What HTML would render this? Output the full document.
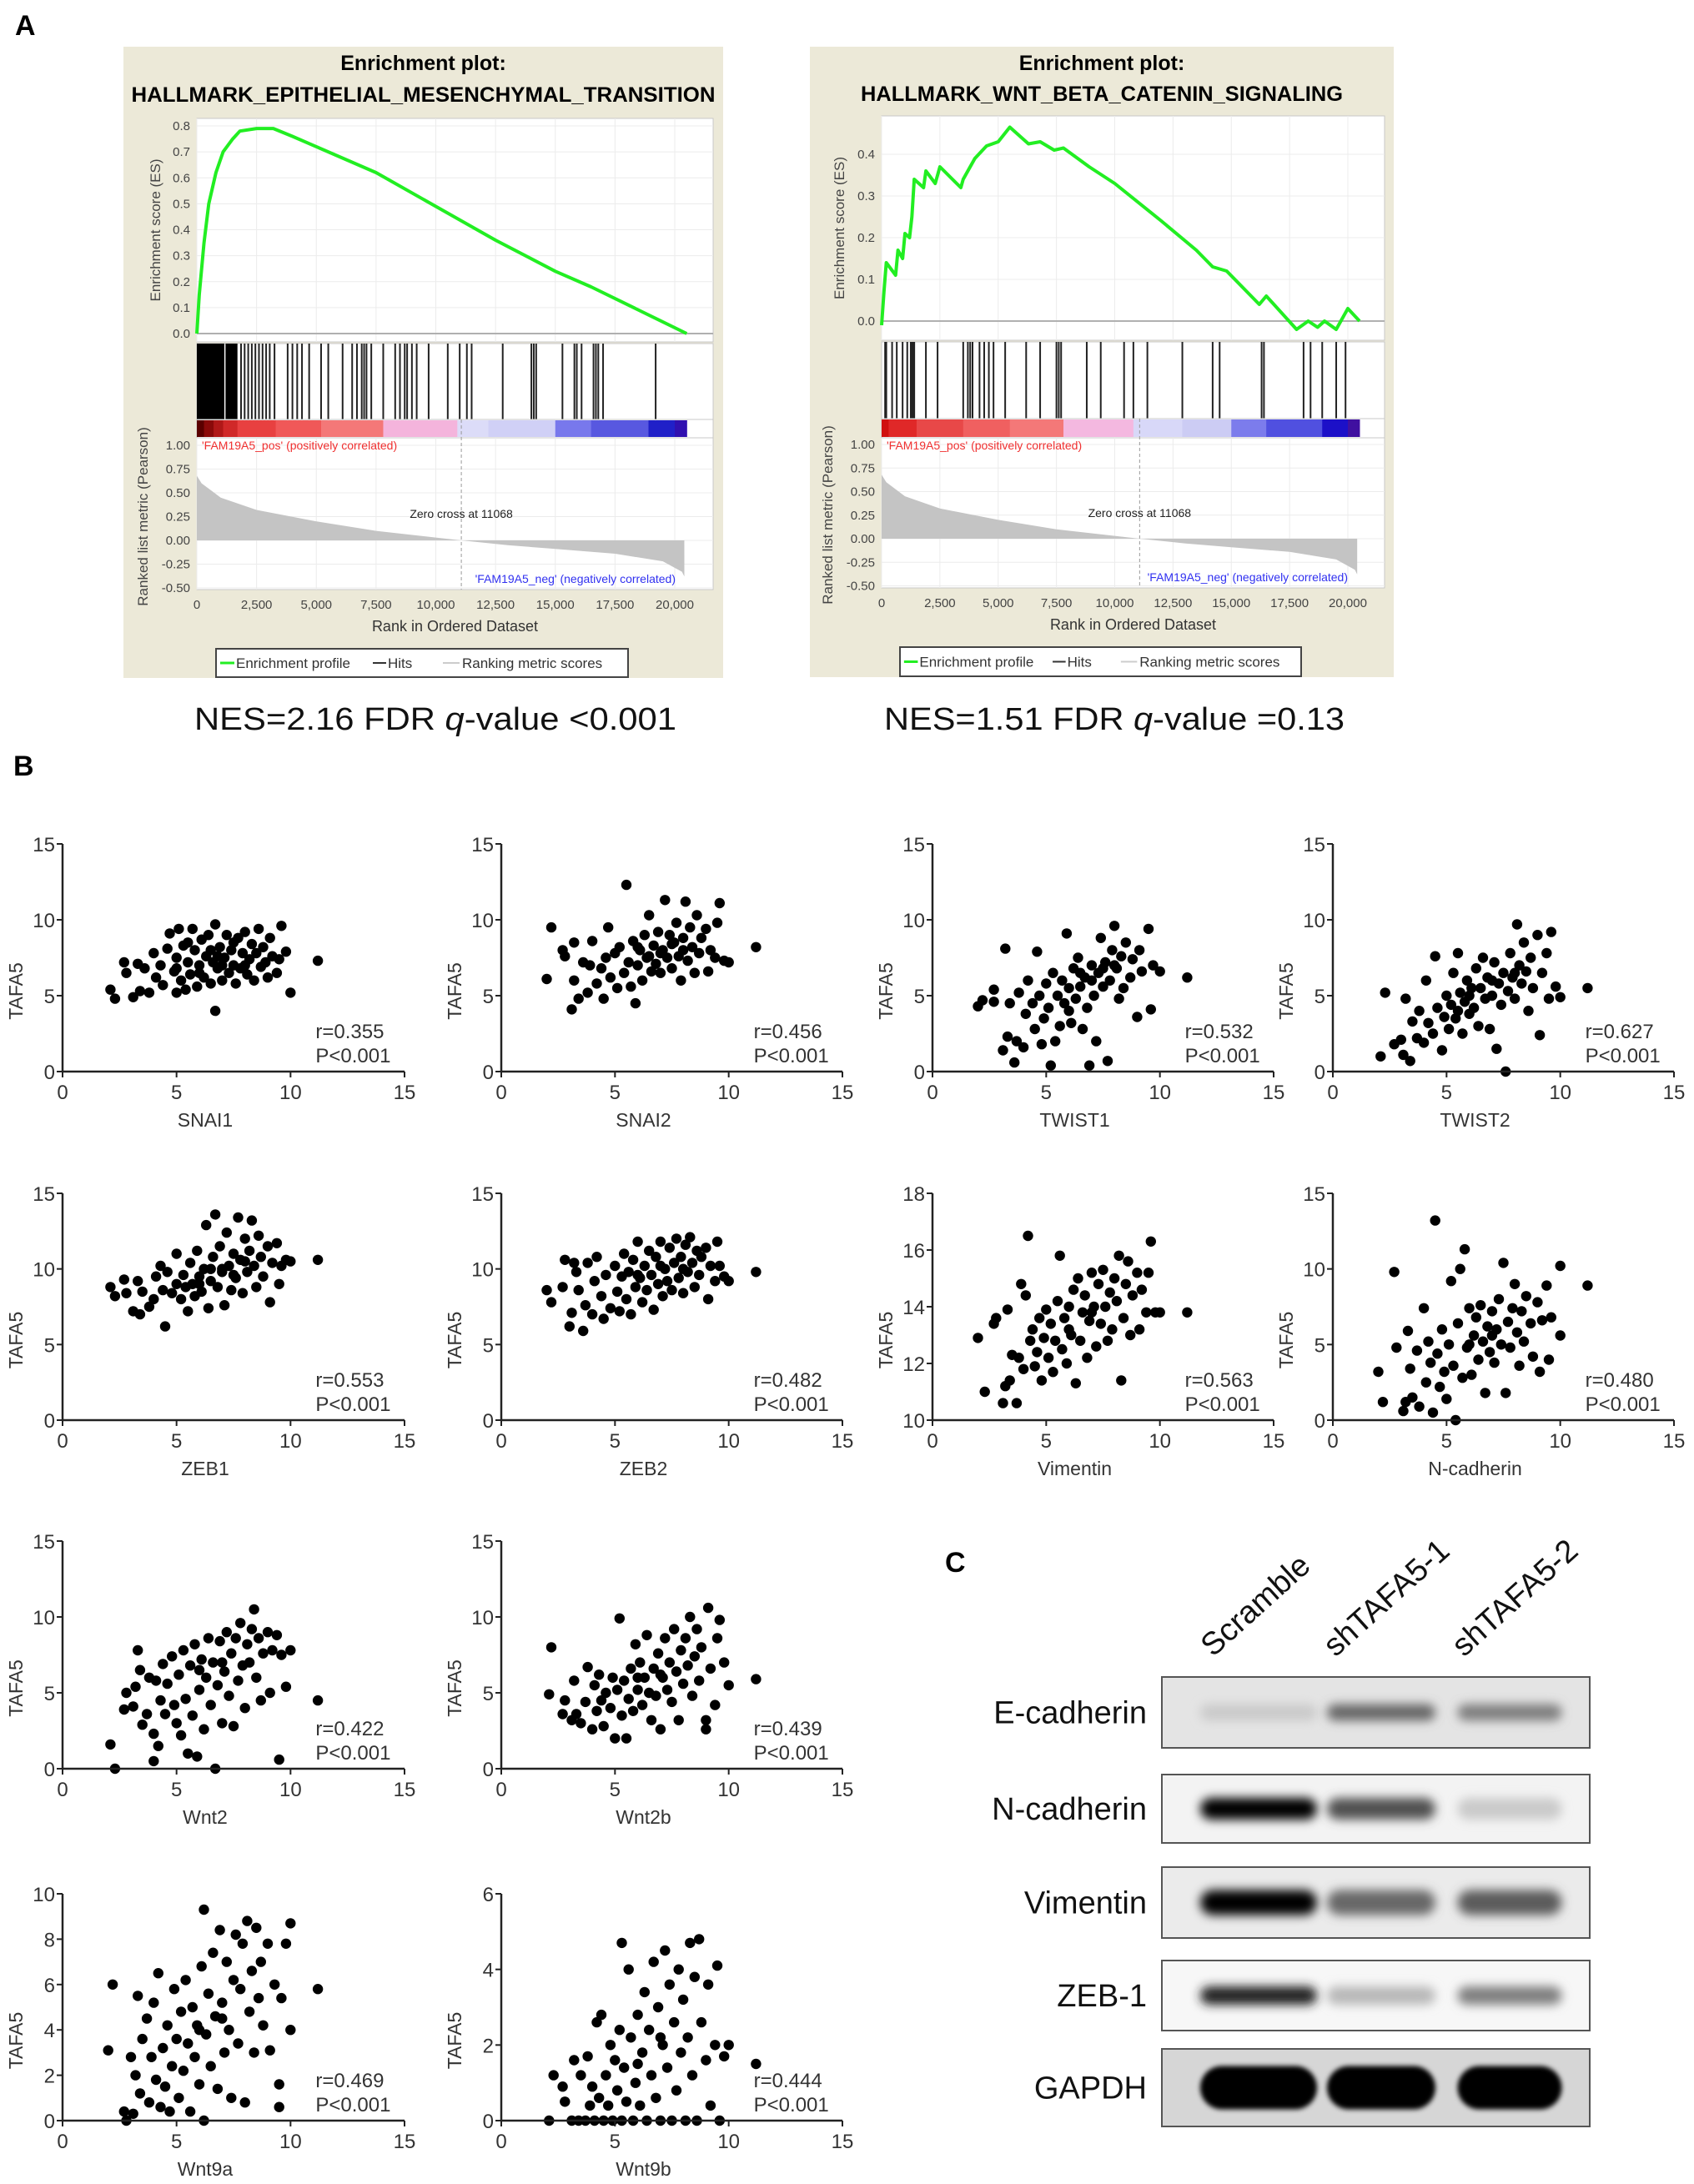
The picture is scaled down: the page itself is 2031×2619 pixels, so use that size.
<!DOCTYPE html>
<html><head><meta charset="utf-8"><style>
html,body{margin:0;padding:0;background:#fff;}
svg{display:block;font-family:"Liberation Sans",Arial,sans-serif;}
</style></head><body>
<svg id="fig" width="2031" height="2619" viewBox="0 0 2031 2619" xmlns="http://www.w3.org/2000/svg">
<defs>
<filter id="blur" x="-30%" y="-100%" width="160%" height="300%"><feGaussianBlur stdDeviation="6"/></filter>
<filter id="blur2" x="-30%" y="-100%" width="160%" height="300%"><feGaussianBlur stdDeviation="3"/></filter>
</defs>
<text x="18" y="42" font-size="34" font-weight="bold">A</text>
<text x="16" y="930" font-size="34" font-weight="bold">B</text>
<text x="1133" y="1885" font-size="34" font-weight="bold">C</text>
</svg>
<script>
// ===== GSEA data =====
const emtEsRank=[0,100,300,500,800,1100,1500,1800,2500,3200,4000,5000,7500,10000,12500,15000,16500,18500,20500];
const emtEsVal=[0,0.15,0.35,0.5,0.62,0.7,0.75,0.78,0.79,0.79,0.76,0.72,0.62,0.49,0.36,0.24,0.18,0.09,0];
const emtHitBlocks=[[0,1150],[1200,1700]];
const emtHits=[1850,2000,2150,2300,2450,2600,2750,2900,3050,3250,3800,4000,4200,4400,4700,5200,5500,6100,6500,6700,6900,7000,7100,7300,7800,8300,8500,8700,8800,9000,9200,9700,10500,11000,11300,11500,12800,14000,14100,14200,15300,15800,15900,16100,16600,16700,16800,17000,19200];
const emtBarRank=[0,300,700,1100,1700,3300,5200,7800,10900,12200,15000,16500,18900,20000];
const emtBarColor=['#5a0000','#8a0a0a','#b01818','#d02828','#e84040','#f05858','#f47878','#f4b4dc','#dcdcf8','#d0d0f6','#7878ec','#5858e0','#2020c8','#3010b0'];
const wntEsRank=[0,100,200,600,700,900,1000,1200,1300,1400,1800,1900,2300,2500,3400,3500,4000,4500,5000,5500,6300,6800,7400,7800,8900,10000,12000,13500,14200,14800,16200,16500,17800,18300,18700,19000,19500,19700,20000,20500];
const wntEsVal=[-0.01,0.07,0.14,0.11,0.17,0.15,0.21,0.2,0.25,0.34,0.32,0.36,0.33,0.37,0.32,0.34,0.39,0.42,0.43,0.465,0.425,0.43,0.41,0.415,0.37,0.33,0.24,0.17,0.13,0.12,0.04,0.06,-0.02,0.0,-0.015,0.0,-0.02,0.0,0.03,0.0];
const wntHitBlocks=[];
const wntHits=[150,200,450,650,900,1100,1250,1300,1350,1400,1900,2400,3500,3700,3800,3900,4200,4400,4600,4800,5300,6200,6800,7500,7600,7700,8800,9400,10400,10800,11400,12900,14200,14500,16300,16400,18100,18400,18900,19500,19900];
const wntBarRank=[0,300,1500,3500,5500,7800,10800,12900,15000,16500,18900,20000];
const wntBarColor=['#d01010','#e02828','#e84848','#f06060','#f47878','#f4b8e0','#d8d8f8','#ccccf4','#7c7cec','#5050e0','#1c10c8','#4010a0'];
const metricRank=[0,200,1000,2500,5000,7500,10000,11068,13000,15000,17500,19500,20300,20400];
const metricVal=[0.68,0.6,0.45,0.32,0.2,0.1,0.03,0,-0.05,-0.09,-0.14,-0.22,-0.33,-0.38];
const rankTicks=[0,2500,5000,7500,10000,12500,15000,17500,20000];
const rankTickLabels=['0','2,500','5,000','7,500','10,000','12,500','15,000','17,500','20,000'];
const metricTicks=[1,0.75,0.5,0.25,0,-0.25,-0.5];
const metricTickLabels=['1.00','0.75','0.50','0.25','0.00','-0.25','-0.50'];
const emtEsTicks=[0,0.1,0.2,0.3,0.4,0.5,0.6,0.7,0.8];
const wntEsTicks=[0,0.1,0.2,0.3,0.4];

const NS='http://www.w3.org/2000/svg';
const svg=document.getElementById('fig');
function mk(tag,attrs,parent,text){const e=document.createElementNS(NS,tag);for(const k in attrs)e.setAttribute(k,attrs[k]);if(text!==undefined)e.textContent=text;(parent||svg).appendChild(e);return e;}

function gsea(cfg){
  const g=mk('g',{});
  
  
  const xr=r=>cfg.x0+(r/20000)*(cfg.x20k-cfg.x0);
  const ye=v=>cfg.es0+(v/cfg.esRef)*(cfg.esRefY-cfg.es0);
  const ymm=v=>cfg.m0-(v)*(cfg.m0-cfg.m1);
  const bg=mk('rect',{x:cfg.box[0],y:cfg.box[1],width:cfg.box[2]-cfg.box[0],height:cfg.box[3]-cfg.box[1],fill:'#ece9d8'},g);
  
  const cx=(cfg.box[0]+cfg.box[2])/2;
  let t=mk('text',{x:cx,y:cfg.t1y,'font-size':25,'font-weight':'bold','text-anchor':'middle'},g,'Enrichment plot:');
  
  t=mk('text',{x:cx,y:cfg.t2y,'font-size':25,'font-weight':'bold','text-anchor':'middle',textLength:cfg.t2len,lengthAdjust:'spacingAndGlyphs'},g,cfg.title);
  
  const L=cfg.x0,R=cfg.xR;
  let p=mk('rect',{x:L,y:cfg.esTop,width:R-L,height:cfg.esBot-cfg.esTop,fill:'#fff',stroke:'#c8c8c8'},g);
  
  rankTicks.forEach(r=>{mk('line',{x1:xr(r),x2:xr(r),y1:cfg.esTop,y2:cfg.esBot,stroke:'#ececec'},g);});
  cfg.esTicks.forEach(v=>{mk('line',{x1:L,x2:R,y1:ye(v),y2:ye(v),stroke:v===0?'#b0b0b0':'#ececec','stroke-width':v===0?2:1},g);
    const tl=mk('text',{x:L-8,y:ye(v)+5,'font-size':15,fill:'#444','text-anchor':'end'},g,v.toFixed(1));
    });
  let yl=mk('text',{transform:`translate(${cfg.esLabX},${(cfg.esTop+cfg.esBot)/2}) rotate(-90)`,'font-size':17,fill:'#444','text-anchor':'middle'},g,'Enrichment score (ES)');
  
  const pts=cfg.esRank.map((r,i)=>xr(r).toFixed(1)+','+ye(cfg.esVal[i]).toFixed(1)).join(' ');
  const pl=mk('polyline',{points:pts,fill:'none',stroke:'#22ee22','stroke-width':4,'stroke-linejoin':'round'},g);
  
  p=mk('rect',{x:L,y:cfg.hTop,width:R-L,height:cfg.hBot-cfg.hTop,fill:'#fff',stroke:'#c8c8c8'},g);
  
  cfg.hitBlocks.forEach(b=>{const h=mk('rect',{x:xr(b[0]),y:cfg.hTop,width:xr(b[1])-xr(b[0]),height:cfg.hBot-cfg.hTop,fill:'#000'},g);
    });
  cfg.hits.forEach(r=>{const h=mk('line',{x1:xr(r),x2:xr(r),y1:cfg.hTop,y2:cfg.hBot,stroke:'#222','stroke-width':2},g);
    });
  mk('rect',{x:L,y:cfg.hBot,width:R-L,height:cfg.mTop-cfg.hBot,fill:'#fff',stroke:'#c8c8c8'},g);
  cfg.barRank.forEach((r,i)=>{const e=i+1<cfg.barRank.length?cfg.barRank[i+1]:20500;
    const c=mk('rect',{x:xr(r),y:cfg.hBot+1,width:xr(e)-xr(r)+0.5,height:cfg.mTop-cfg.hBot-2,fill:cfg.barColor[i]},g);
    });
  p=mk('rect',{x:L,y:cfg.mTop,width:R-L,height:cfg.mBot-cfg.mTop,fill:'#fff',stroke:'#c8c8c8'},g);
  
  rankTicks.forEach(r=>mk('line',{x1:xr(r),x2:xr(r),y1:cfg.mTop,y2:cfg.mBot,stroke:'#ececec'},g));
  metricTicks.forEach((v,i)=>{mk('line',{x1:L,x2:R,y1:ymm(v),y2:ymm(v),stroke:'#ececec'},g);
    const tl=mk('text',{x:L-8,y:ymm(v)+5,'font-size':15,fill:'#444','text-anchor':'end'},g,metricTickLabels[i]);
    });
  let ap='M'+xr(0)+','+ymm(0)+' '+metricRank.map((r,i)=>'L'+xr(r).toFixed(1)+','+ymm(metricVal[i]).toFixed(1)).join(' ')+' L'+xr(metricRank[metricRank.length-1])+','+ymm(0)+'Z';
  const area=mk('path',{d:ap,fill:'#c4c4c4'},g);
  
  mk('line',{x1:xr(11068),x2:xr(11068),y1:cfg.hBot,y2:cfg.mBot,stroke:'#999','stroke-dasharray':'4,3'},g);
  t=mk('text',{x:xr(11068),y:cfg.zcY,'font-size':14,'text-anchor':'middle',fill:'#222'},g,'Zero cross at 11068');
  
  t=mk('text',{x:L+6,y:cfg.mTop+14,'font-size':14,fill:'#f03030'},g,"'FAM19A5_pos' (positively correlated)");
  
  t=mk('text',{x:cfg.negX,y:cfg.mBot-8,'font-size':14,fill:'#3030f0','text-anchor':'end'},g,"'FAM19A5_neg' (negatively correlated)");
  
  yl=mk('text',{transform:`translate(${cfg.mLabX},${(cfg.hTop+cfg.mBot+120)/2}) rotate(-90)`,'font-size':17,fill:'#444','text-anchor':'middle'},g,'Ranked list metric (Pearson)');
  
  rankTicks.forEach((r,i)=>{const tl=mk('text',{x:xr(r),y:cfg.mBot+23,'font-size':15,fill:'#444','text-anchor':'middle'},g,rankTickLabels[i]);
    });
  t=mk('text',{x:(L+R)/2,y:cfg.mBot+50,'font-size':18,fill:'#333','text-anchor':'middle'},g,'Rank in Ordered Dataset');
  
  const lg=mk('g',{},g);
  const [lx1,ly1,lx2,ly2]=cfg.leg;
  mk('rect',{x:lx1,y:ly1,width:lx2-lx1,height:ly2-ly1,fill:'#fff',stroke:'#444','stroke-width':2},lg);
  const sc=(lx2-lx1)/494; const my=(ly1+ly2)/2;
  mk('line',{x1:lx1+5*sc,x2:lx1+22*sc,y1:my,y2:my,stroke:'#22ee22','stroke-width':3},lg);
  t=mk('text',{x:lx1+24*sc,y:my+6,'font-size':17,fill:'#333'},lg,'Enrichment profile');
  mk('line',{x1:lx1+188*sc,x2:lx1+204*sc,y1:my,y2:my,stroke:'#333','stroke-width':2},lg);
  t=mk('text',{x:lx1+206*sc,y:my+6,'font-size':17,fill:'#333'},lg,'Hits');
  mk('line',{x1:lx1+272*sc,x2:lx1+292*sc,y1:my,y2:my,stroke:'#ccc','stroke-width':2},lg);
  t=mk('text',{x:lx1+295*sc,y:my+6,'font-size':17,fill:'#333'},lg,'Ranking metric scores');
  const nes=mk('text',{x:cfg.nesX,y:875,'font-size':38,fill:'#111',textLength:cfg.nesLen,lengthAdjust:'spacingAndGlyphs'});
  
  mk('tspan',{},nes,cfg.nes1);mk('tspan',{'font-style':'italic'},nes,'q');mk('tspan',{},nes,cfg.nes2);
}
gsea({name:'gsea-emt',box:[148,56,867,813],title:'HALLMARK_EPITHELIAL_MESENCHYMAL_TRANSITION',t1y:84,t2y:122,t2len:700,
  x0:236,x20k:809,xR:855,esTop:142,esBot:410,es0:400,esRef:0.8,esRefY:151,esTicks:emtEsTicks,esLabX:192,
  hTop:412,hBot:503,mTop:525,mBot:707,m0:648,m1:534,zcY:621,negX:810,mLabX:177,leg:[259,778,753,812],
  esRank:emtEsRank,esVal:emtEsVal,hits:emtHits,hitBlocks:emtHitBlocks,barRank:emtBarRank,barColor:emtBarColor,
  nesX:233,nesLen:578,nes1:'NES=2.16   FDR ',nes2:'-value <0.001'});
gsea({name:'gsea-wnt',box:[971,56,1671,812],title:'HALLMARK_WNT_BETA_CATENIN_SIGNALING',t1y:84,t2y:121,t2len:578,
  x0:1057,x20k:1616,xR:1660,esTop:139,esBot:408,es0:385,esRef:0.4,esRefY:185,esTicks:wntEsTicks,esLabX:1012,
  hTop:410,hBot:502,mTop:525,mBot:705,m0:646,m1:533,zcY:620,negX:1616,mLabX:998,leg:[1079,776,1560,811],
  esRank:wntEsRank,esVal:wntEsVal,hits:wntHits,hitBlocks:wntHitBlocks,barRank:wntBarRank,barColor:wntBarColor,
  nesX:1060,nesLen:552,nes1:'NES=1.51   FDR ',nes2:'-value =0.13'});

// ===== Scatter data (panel B) =====
const snai1X=[2.1,2.3,2.7,2.8,3.1,3.3,3.4,3.6,3.8,4.0,4.1,4.3,4.4,4.6,4.7,4.9,5.0,5.0,5.1,5.2,5.3,5.4,5.5,5.6,5.7,5.8,5.9,6.0,6.1,6.2,6.3,6.4,6.5,6.6,6.7,6.7,6.8,6.9,7.0,7.1,7.2,7.3,7.4,7.5,7.6,7.7,7.8,7.9,8.0,8.1,8.2,8.3,8.4,8.5,8.6,8.7,8.8,8.9,9.0,9.1,9.2,9.4,9.5,9.6,9.8,10.0,11.2,5.5,6.5,7.5,6.0,7.0,8.0,5.0,6.8];
const snai1Y=[5.4,4.8,7.2,6.5,4.9,7.1,5.3,6.8,5.2,7.8,6.2,7.0,5.7,8.1,9.1,6.6,5.2,7.5,9.4,6.0,8.3,5.4,7.2,6.4,9.4,8.0,5.6,7.0,8.7,6.2,7.6,9.0,5.8,7.2,4.0,9.7,6.8,8.2,6.0,7.5,9.0,6.5,8.0,7.0,5.8,8.8,6.8,7.8,9.2,6.4,7.4,8.4,6.0,7.8,9.4,6.9,8.2,7.2,6.2,8.8,7.6,6.5,7.4,9.6,7.9,5.2,7.3,8.5,8.0,8.5,6.5,7.0,7.0,6.8,7.6];
const snai2X=[2.0,2.2,2.7,2.8,3.1,3.2,3.2,3.4,3.6,3.8,3.9,4.0,4.2,4.4,4.5,4.6,4.7,4.8,5.0,5.1,5.2,5.4,5.5,5.6,5.7,5.8,5.9,6.0,6.1,6.2,6.3,6.4,6.5,6.6,6.7,6.8,6.9,7.0,7.1,7.2,7.3,7.4,7.5,7.6,7.7,7.8,7.9,8.0,8.1,8.2,8.3,8.4,8.5,8.6,8.7,8.8,9.0,9.1,9.2,9.4,9.5,9.6,9.8,10.0,11.2,6.0,7.0,8.0,6.5,7.5];
const snai2Y=[6.1,9.5,8.0,7.6,4.1,8.5,6.0,4.8,7.2,5.2,7.0,8.6,5.8,6.8,4.8,7.5,9.5,6.2,7.8,5.5,8.2,6.5,12.3,7.2,5.6,8.6,4.5,7.0,8.0,6.0,9.0,7.5,10.3,6.6,8.3,7.1,9.2,6.5,8.0,11.3,7.5,9.0,6.8,8.5,9.8,7.6,6.0,8.8,11.2,7.3,9.5,8.2,6.5,10.3,7.8,8.8,9.4,6.6,8.0,7.5,9.8,11.1,7.3,7.2,8.2,8.2,7.8,8.0,7.6,8.4];
const twist1X=[2.0,2.2,2.7,2.7,3.1,3.2,3.3,3.4,3.6,3.7,3.8,4.0,4.1,4.2,4.4,4.5,4.6,4.7,4.8,4.9,5.0,5.1,5.2,5.3,5.4,5.5,5.6,5.7,5.8,5.9,6.0,6.1,6.2,6.3,6.4,6.5,6.6,6.7,6.8,6.9,7.0,7.1,7.2,7.3,7.4,7.5,7.6,7.7,7.8,7.9,8.0,8.1,8.2,8.3,8.4,8.5,8.7,8.8,9.0,9.1,9.2,9.5,9.6,9.7,10.0,11.2,6.0,7.0,8.0,6.5,7.5];
const twist1Y=[4.3,4.7,4.6,5.4,1.4,8.1,2.3,4.5,0.6,2.0,5.2,1.6,3.8,6.0,4.5,2.8,7.9,5.0,1.8,3.5,5.8,4.2,0.4,6.5,2.0,5.0,3.0,6.0,4.5,9.1,5.5,3.2,6.8,4.8,7.5,5.6,2.8,6.2,4.2,0.4,7.0,5.0,2.0,6.5,8.8,5.6,7.2,0.7,6.0,8.0,9.6,6.8,4.8,7.6,5.5,8.5,6.2,7.4,3.6,8.0,6.6,9.4,4.1,7.0,6.6,6.2,4.0,6.0,7.0,6.5,6.8];
const twist2X=[2.1,2.3,2.7,3.0,3.1,3.2,3.4,3.5,3.7,3.8,4.0,4.1,4.2,4.4,4.5,4.6,4.8,4.9,5.0,5.1,5.2,5.3,5.4,5.5,5.6,5.7,5.8,5.9,6.0,6.1,6.2,6.3,6.4,6.5,6.6,6.7,6.8,6.9,7.0,7.1,7.2,7.3,7.4,7.5,7.6,7.7,7.8,7.9,8.0,8.1,8.2,8.3,8.4,8.5,8.6,8.7,8.8,9.0,9.1,9.2,9.4,9.5,9.6,9.8,10.0,11.2,6.0,7.0,8.0,5.5];
const twist2Y=[1.0,5.2,1.8,2.1,1.1,4.8,0.7,3.3,2.2,4.0,1.9,6.0,3.2,2.5,7.6,4.2,1.4,3.6,5.0,2.8,4.4,6.5,3.5,7.8,5.2,2.5,4.6,6.0,3.8,5.5,4.2,6.8,3.0,5.5,7.5,4.8,6.2,2.8,5.0,7.2,1.5,5.8,4.4,6.5,0.0,5.3,7.8,6.2,4.8,9.7,7.0,5.8,8.5,6.6,4.0,7.5,5.5,9.0,2.4,6.5,7.8,4.8,9.2,5.6,4.9,5.5,5.0,6.0,6.5,4.0];
const zeb1X=[2.1,2.3,2.7,2.8,3.1,3.3,3.4,3.5,3.8,4.0,4.1,4.3,4.4,4.5,4.6,4.8,5.0,5.0,5.2,5.3,5.4,5.5,5.6,5.7,5.8,5.9,6.0,6.1,6.2,6.3,6.4,6.5,6.6,6.7,6.8,6.9,7.0,7.1,7.2,7.3,7.4,7.5,7.6,7.7,7.8,7.9,8.0,8.1,8.2,8.3,8.4,8.5,8.6,8.7,8.8,9.0,9.1,9.2,9.4,9.5,9.6,9.8,10.0,11.2,6.0,7.0,8.0,6.5,7.5];
const zeb1Y=[8.8,8.2,9.3,8.4,7.2,9.2,7.0,8.5,7.5,8.0,9.5,10.2,8.6,6.2,9.8,8.4,11.0,9.0,8.0,9.6,8.8,7.2,10.4,9.0,8.2,11.2,9.5,8.5,10.0,12.9,7.4,9.2,10.8,13.6,8.8,11.5,9.8,7.6,12.4,10.2,8.6,11.0,9.4,13.4,10.6,8.4,12.0,9.8,11.2,13.2,10.2,8.8,12.2,10.8,9.5,11.5,7.8,10.4,11.7,9.0,10.2,10.6,10.5,10.6,9.0,10.0,10.5,10.0,9.6];
const zeb2X=[2.0,2.2,2.7,2.8,3.0,3.1,3.2,3.3,3.4,3.6,3.7,3.8,4.0,4.1,4.2,4.4,4.5,4.6,4.8,5.0,5.1,5.2,5.3,5.4,5.5,5.6,5.7,5.8,5.9,6.0,6.1,6.2,6.3,6.4,6.5,6.6,6.7,6.8,6.9,7.0,7.1,7.2,7.3,7.4,7.5,7.6,7.7,7.8,7.9,8.0,8.1,8.2,8.3,8.4,8.5,8.6,8.7,8.8,9.0,9.1,9.2,9.4,9.5,9.6,9.8,10.0,11.2,6.0,7.0,8.0];
const zeb2Y=[8.6,7.8,8.8,10.6,6.2,7.1,10.4,9.8,8.6,5.9,7.6,10.4,7.0,9.2,10.8,8.2,6.7,9.6,7.4,10.2,8.5,7.2,9.5,11.0,8.0,9.8,7.0,10.6,8.8,11.8,9.4,7.8,10.2,8.6,11.2,9.6,7.3,10.8,9.0,11.8,8.2,10.0,9.2,11.4,8.6,10.4,12.0,9.4,10.8,8.4,11.6,9.8,12.1,10.4,8.8,11.2,9.6,10.8,11.4,8.0,10.2,9.2,11.8,10.2,9.5,9.2,9.8,9.6,10.2,10.0];
const vimX=[2.0,2.3,2.7,2.8,3.1,3.2,3.3,3.4,3.5,3.7,3.8,3.9,4.0,4.1,4.2,4.3,4.4,4.5,4.6,4.7,4.8,4.9,5.0,5.1,5.2,5.3,5.4,5.5,5.6,5.7,5.8,5.9,6.0,6.1,6.2,6.3,6.4,6.5,6.6,6.7,6.8,6.9,7.0,7.1,7.2,7.3,7.4,7.5,7.6,7.7,7.8,7.9,8.0,8.1,8.2,8.3,8.4,8.5,8.6,8.7,8.8,9.0,9.1,9.2,9.4,9.5,9.6,9.8,10.0,11.2,6.0,7.0];
const vimY=[12.9,11.0,13.4,13.6,10.6,11.2,13.9,11.4,12.3,10.6,12.2,14.8,11.8,14.4,16.5,12.8,13.2,11.9,12.4,13.6,11.4,12.9,13.9,12.2,13.4,11.7,12.8,14.2,15.8,12.5,13.6,12.0,14.0,13.0,14.6,11.3,15.0,12.8,13.8,14.4,12.2,13.5,15.2,14.0,12.6,14.8,13.4,15.3,14.0,12.8,14.5,13.2,15.0,14.2,15.8,11.4,13.6,14.8,15.6,13.0,14.4,15.2,13.2,14.6,13.8,15.2,16.3,13.8,13.8,13.8,13.2,13.8];
const ncadX=[2.0,2.2,2.7,2.8,3.1,3.2,3.3,3.4,3.5,3.7,3.8,4.0,4.1,4.2,4.3,4.4,4.5,4.6,4.7,4.8,4.9,5.0,5.1,5.2,5.3,5.4,5.5,5.6,5.7,5.8,5.9,6.0,6.1,6.2,6.3,6.4,6.5,6.6,6.7,6.8,6.9,7.0,7.1,7.2,7.3,7.4,7.5,7.6,7.7,7.8,7.9,8.0,8.1,8.2,8.3,8.4,8.5,8.7,8.8,9.0,9.1,9.2,9.4,9.5,9.6,10.0,10.0,11.2,6.0,7.0];
const ncadY=[3.2,1.2,9.8,4.8,0.6,1.2,5.9,3.4,1.5,4.6,0.9,7.4,2.5,5.2,3.8,0.5,13.2,4.4,2.2,6.0,3.2,1.4,5.0,9.2,3.6,0.0,6.4,10.0,2.8,11.3,4.8,7.4,3.0,5.6,6.8,4.0,7.6,5.2,1.8,6.2,4.5,7.2,3.8,6.0,8.0,5.0,10.4,1.8,6.5,4.8,7.4,9.0,5.8,3.6,7.2,5.2,8.2,6.4,4.2,7.8,3.2,6.6,8.9,4.0,6.8,10.2,5.6,8.9,5.0,5.6];
const wnt2X=[2.1,2.3,2.7,2.8,3.1,3.2,3.3,3.4,3.5,3.7,3.8,4.0,4.0,4.1,4.2,4.3,4.4,4.5,4.6,4.8,4.9,5.0,5.1,5.2,5.3,5.4,5.5,5.6,5.7,5.8,5.9,6.0,6.1,6.2,6.3,6.4,6.5,6.6,6.7,6.8,6.9,7.0,7.1,7.2,7.3,7.4,7.5,7.6,7.7,7.8,7.9,8.0,8.1,8.2,8.3,8.4,8.5,8.6,8.7,8.8,9.0,9.1,9.2,9.4,9.5,9.6,9.8,10.0,11.2,6.0,7.0];
const wnt2Y=[1.6,0.0,3.9,5.0,4.1,5.4,7.8,6.5,2.9,3.6,6.0,0.5,2.3,5.8,1.5,4.5,6.9,3.6,5.6,7.4,4.2,3.0,6.2,2.2,7.8,4.6,1.0,6.8,3.5,8.2,0.8,5.2,7.2,2.6,6.0,8.6,4.2,7.0,0.0,5.5,8.4,3.0,6.4,9.0,4.8,7.6,2.8,8.6,5.8,9.6,6.8,4.0,8.2,7.0,9.2,10.5,6.0,8.6,4.5,7.6,9.0,5.0,7.8,8.8,0.6,7.5,5.4,7.8,4.5,6.5,7.0];
const wnt2bX=[2.1,2.2,2.7,2.8,3.1,3.2,3.3,3.5,3.7,3.8,4.0,4.1,4.2,4.3,4.4,4.5,4.6,4.8,4.9,5.0,5.1,5.2,5.3,5.4,5.5,5.6,5.7,5.8,5.9,6.0,6.1,6.2,6.3,6.4,6.5,6.6,6.7,6.8,6.9,7.0,7.1,7.2,7.3,7.4,7.5,7.6,7.7,7.8,7.9,8.0,8.1,8.2,8.3,8.4,8.5,8.6,8.7,8.8,9.0,9.0,9.1,9.2,9.4,9.5,9.6,9.8,10.0,11.2,6.0,7.0];
const wnt2bY=[4.9,8.0,3.6,4.5,3.2,5.8,3.6,3.0,4.4,6.7,2.6,5.5,3.8,6.2,4.5,2.8,5.0,4.0,6.0,2.0,5.2,9.9,3.5,5.8,2.0,4.6,6.6,3.8,8.2,5.2,7.0,4.2,6.0,8.8,5.0,3.2,6.6,4.8,7.6,2.6,6.0,8.6,5.2,7.0,4.4,9.2,6.4,3.2,7.8,5.6,8.6,6.8,10.0,4.8,7.4,9.2,5.8,8.0,2.6,3.2,10.6,6.6,4.2,8.6,9.8,7.0,5.5,5.9,6.0,6.2];
const wnt9aX=[2.0,2.2,2.7,2.8,3.0,3.1,3.2,3.3,3.4,3.5,3.7,3.8,3.9,4.0,4.1,4.2,4.3,4.4,4.5,4.6,4.7,4.8,4.9,5.0,5.1,5.2,5.3,5.4,5.5,5.6,5.7,5.8,5.9,6.0,6.1,6.2,6.2,6.3,6.4,6.5,6.6,6.7,6.8,6.9,7.0,7.1,7.2,7.3,7.4,7.5,7.6,7.7,7.8,7.9,8.0,8.1,8.2,8.3,8.4,8.5,8.6,8.7,8.8,9.0,9.1,9.3,9.5,9.5,9.6,9.8,10.0,10.0,11.2,6.0,7.0];
const wnt9aY=[3.1,6.0,0.4,0.0,2.8,0.3,2.0,5.5,1.2,3.6,4.5,0.8,2.8,5.2,1.8,6.5,0.6,3.2,1.5,4.2,0.4,2.4,5.8,3.6,1.0,4.8,2.2,6.2,3.4,0.4,5.0,2.8,4.2,1.6,6.8,9.3,0.0,3.8,5.6,2.4,7.4,4.6,1.4,8.4,5.2,3.0,7.0,4.0,1.0,6.2,8.2,3.4,5.8,7.8,0.8,8.8,4.8,6.6,3.0,8.5,5.4,7.0,4.2,7.8,3.1,6.0,1.6,0.6,5.4,7.8,8.7,4.0,5.8,4.0,4.5];
const wnt9bX=[2.1,2.3,2.7,2.8,3.1,3.2,3.4,3.5,3.7,3.8,3.9,4.0,4.1,4.2,4.3,4.4,4.5,4.6,4.7,4.8,4.9,5.0,5.1,5.2,5.3,5.3,5.4,5.5,5.6,5.7,5.8,5.9,6.0,6.1,6.2,6.3,6.4,6.5,6.6,6.7,6.8,6.9,7.0,7.1,7.2,7.3,7.4,7.5,7.6,7.7,7.8,7.9,8.0,8.1,8.2,8.3,8.4,8.5,8.6,8.7,8.8,9.0,9.1,9.2,9.4,9.5,9.6,9.8,10.0,11.2,6.0,7.0];
const wnt9bY=[0.0,1.2,0.9,0.5,0.0,1.6,0.0,1.2,0.0,1.7,0.4,0.9,0.0,2.6,0.6,2.8,0.0,1.2,0.4,2.0,0.0,1.6,0.8,2.4,4.7,0.0,1.4,0.5,4.0,2.2,0.0,1.0,2.8,0.4,1.8,3.4,0.0,2.4,1.2,4.2,0.6,3.0,0.0,2.0,4.5,1.4,3.6,0.0,2.6,0.8,4.0,1.8,3.2,0.0,2.2,4.7,1.2,3.8,0.0,4.8,2.6,1.6,3.6,0.4,2.0,4.1,0.0,1.7,2.0,1.5,1.5,2.2];
const yTicks15=[0,5,10,15], yTicksVim=[10,12,14,16,18], yTicks10=[0,2,4,6,8,10], yTicks6=[0,2,4,6];
const xTicks=[0,5,10,15];
const geneNames=['SNAI1','SNAI2','TWIST1','TWIST2','ZEB1','ZEB2','Vimentin','N-cadherin','Wnt2','Wnt2b','Wnt9a','Wnt9b'];
const rValues=['r=0.355','r=0.456','r=0.532','r=0.627','r=0.553','r=0.482','r=0.563','r=0.480','r=0.422','r=0.439','r=0.469','r=0.444'];

const colPx=[[75,485],[601,1010],[1118,1527],[1598,2007]];
const rowPx=[[1012,1285],[1431,1703],[1848,2121],[2271,2543]];
const plots=[
 {xs:snai1X,ys:snai1Y,c:0,r:0,yt:yTicks15},{xs:snai2X,ys:snai2Y,c:1,r:0,yt:yTicks15},
 {xs:twist1X,ys:twist1Y,c:2,r:0,yt:yTicks15},{xs:twist2X,ys:twist2Y,c:3,r:0,yt:yTicks15},
 {xs:zeb1X,ys:zeb1Y,c:0,r:1,yt:yTicks15},{xs:zeb2X,ys:zeb2Y,c:1,r:1,yt:yTicks15},
 {xs:vimX,ys:vimY,c:2,r:1,yt:yTicksVim},{xs:ncadX,ys:ncadY,c:3,r:1,yt:yTicks15},
 {xs:wnt2X,ys:wnt2Y,c:0,r:2,yt:yTicks15},{xs:wnt2bX,ys:wnt2bY,c:1,r:2,yt:yTicks15},
 {xs:wnt9aX,ys:wnt9aY,c:0,r:3,yt:yTicks10},{xs:wnt9bX,ys:wnt9bY,c:1,r:3,yt:yTicks6}];
plots.forEach((p,i)=>{
  const [x0,x1]=colPx[p.c],[yT,yB]=rowPx[p.r];
  const ymin=p.yt[0],ymax=p.yt[p.yt.length-1];
  const sx=v=>x0+(v/15)*(x1-x0), sy=v=>yB-((v-ymin)/(ymax-ymin))*(yB-yT);
  const g=mk('g',{});
  
  
  p.xs.forEach((x,j)=>{const d=mk('circle',{cx:sx(x).toFixed(1),cy:sy(p.ys[j]).toFixed(1),r:6.2,fill:'#000'},g);
    });
  mk('line',{x1:x0,x2:x0,y1:yT,y2:yB+1,stroke:'#222','stroke-width':2.5},g);
  mk('line',{x1:x0-1,x2:x1,y1:yB,y2:yB,stroke:'#222','stroke-width':2.5},g);
  p.yt.forEach(v=>{mk('line',{x1:x0-7,x2:x0,y1:sy(v),y2:sy(v),stroke:'#222','stroke-width':2},g);
    const t=mk('text',{x:x0-9,y:sy(v)+9,'font-size':24,fill:'#333','text-anchor':'end'},g,String(v));
    });
  xTicks.forEach(v=>{mk('line',{x1:sx(v),x2:sx(v),y1:yB,y2:yB+7,stroke:'#222','stroke-width':2},g);
    const t=mk('text',{x:sx(v),y:yB+33,'font-size':24,fill:'#333','text-anchor':'middle'},g,String(v));
    });
  let t=mk('text',{x:(x0+x1)/2-34,y:yB+66,'font-size':23,fill:'#333','text-anchor':'middle'},g,geneNames[i]);
  
  t=mk('text',{transform:`translate(${x0-48},${(yT+yB)/2+40}) rotate(-90)`,'font-size':23,fill:'#333','text-anchor':'middle'},g,'TAFA5');
  
  t=mk('text',{x:sx(11.1),y:yB-40,'font-size':24,fill:'#333'},g,rValues[i]);
  
  t=mk('text',{x:sx(11.1),y:yB-11,'font-size':24,fill:'#333'},g,'P<0.001');
  
});

// ===== Western blot (panel C) =====
const proteins=['E-cadherin','N-cadherin','Vimentin','ZEB-1','GAPDH'];
const laneNames=['Scramble','shTAFA5-1','shTAFA5-2'];
const eCadBand=[0.12,0.55,0.45], nCadBand=[1.0,0.65,0.12], vimBand=[1.0,0.55,0.6], zebBand=[0.85,0.2,0.45], gapdhBand=[1.0,1.0,1.0];
const bandSets=[eCadBand,nCadBand,vimBand,zebBand,gapdhBand];
const blotTop=[2011,2128,2239,2351,2457], blotBot=[2096,2210,2324,2435,2550];
const blotBg=['#e4e4e4','#f3f3f3','#ebebeb','#f7f7f7','#d6d6d6'];
const bandH=[20,26,30,22,52], laneW=[140,130,125];
const laneCx=[1509,1656,1810];
const bx0=1393,bx1=1906;
laneNames.forEach((n,i)=>{const t=mk('text',{transform:`translate(${laneCx[i]-55},${1988}) rotate(-42)`,'font-size':38,fill:'#111'},svg,n);
  });
proteins.forEach((pn,k)=>{
  const g=mk('g',{});
  mk('rect',{x:bx0,y:blotTop[k],width:bx1-bx0,height:blotBot[k]-blotTop[k],fill:blotBg[k]},g);
  const cy=(blotTop[k]+blotBot[k])/2;
  bandSets[k].forEach((v,i)=>{const shade=Math.round(230*(1-v));
    const b=mk('rect',{x:laneCx[i]-laneW[i]/2,y:cy-bandH[k]/2,width:laneW[i],height:bandH[k],rx:bandH[k]/2,fill:`rgb(${shade},${shade},${shade})`,filter:k===4?'url(#blur2)':'url(#blur)'},g);
    });
  mk('rect',{x:bx0,y:blotTop[k],width:bx1-bx0,height:blotBot[k]-blotTop[k],fill:'none',stroke:'#555','stroke-width':2},g);
  const t=mk('text',{x:1375,y:cy+13,'font-size':38,fill:'#111','text-anchor':'end'},svg,pn);
  
});
</script>
</body></html>
